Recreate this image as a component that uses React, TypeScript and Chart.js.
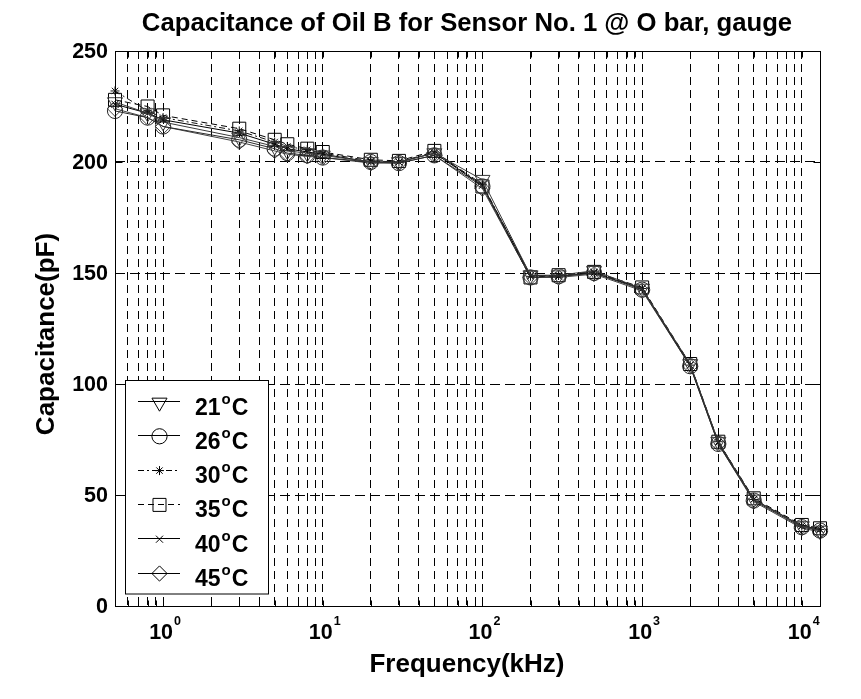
import React, { useEffect, useRef } from "react";
import { Chart, registerables } from "chart.js";
import { drawPoint } from "chart.js/helpers";

Chart.register(...registerables);

// ---- data ----
const freqKHz = [0.5, 0.8, 1, 3, 5, 6, 8, 10, 20, 30, 50, 100, 200, 300, 500, 1000, 2000, 3000, 5000, 10000, 13000];
const cap21 = [227, 222, 218, 211, 207, 205, 204, 203, 200, 200, 204, 192, 149, 149, 151, 143, 109, 74, 48, 36, 34];
const cap26 = [223, 220, 216, 210, 206, 204, 203, 202, 200, 199.5, 203, 189, 148, 148.5, 150, 142.5, 108, 73, 47.5, 35.5, 34];
const cap30 = [232, 223, 220, 214, 209, 207, 205.5, 204, 200.5, 200, 204.5, 190, 148.5, 149, 150.5, 143, 108.5, 74, 48, 36, 34.5];
const cap35 = [228, 225, 221, 215, 210, 208, 206, 204.5, 201, 200.5, 205, 189, 148, 149, 150.5, 143.5, 109, 74, 48.5, 36.5, 35];
const cap40 = [226, 222, 219, 213, 208, 206, 204.5, 203.5, 200, 200, 204, 189.5, 149, 148.5, 150, 143, 108.5, 73.5, 48, 36, 34.5];
const cap45 = [224, 220, 216, 209, 205, 203.5, 202.5, 202, 199.5, 199.5, 203, 188, 148, 148, 149.5, 142, 108, 73, 47, 35, 33.5];
const tempLabels = ["21", "26", "30", "35", "40", "45"];
const xDecades = [1, 10, 100, 1000, 10000];
const xDecadeExp = ["0", "1", "2", "3", "4"];
const xMinorMult = [2, 3, 4, 5, 6, 7, 8, 9];
const xLowTicks = [0.5, 0.6, 0.7, 0.8, 0.9];
const yTicks = [0, 50, 100, 150, 200, 250];

const titleText = "Capacitance of Oil B for Sensor No. 1 @ O bar, gauge";
const xTitle = "Frequency(kHz)";
const yTitle = "Capacitance(pF)";

const FONT = '"Liberation Sans", Arial, Helvetica, sans-serif';

const seriesStyle = [
  { values: cap21, color: "#3a3a3a", dash: [] as number[], pointStyle: "triangle", rotation: 180, radius: 8.7 },
  { values: cap26, color: "#2a2a2a", dash: [], pointStyle: "circle", rotation: 0, radius: 7.6 },
  { values: cap30, color: "#111", dash: [6, 3, 2, 3], pointStyle: "star", rotation: 0, radius: 4.5 },
  { values: cap35, color: "#000", dash: [6, 4], pointStyle: "rect", rotation: 0, radius: 9.2 },
  { values: cap40, color: "#000", dash: [], pointStyle: "crossRot", rotation: 0, radius: 5 },
  { values: cap45, color: "#444", dash: [], pointStyle: "rectRot", rotation: 0, radius: 7.6 },
];

const xTickValues: number[] = [
  ...xLowTicks,
  ...xDecades.slice(0, 4).flatMap((d) => [d, ...xMinorMult.map((m) => m * d)]),
  xDecades[4],
];

const overlay = {
  id: "overlay",
  afterDraw(chart: any) {
    const { ctx, chartArea: a, scales } = chart;
    const xs = scales.x;
    const ys = scales.y;
    const L = Math.round(a.left) + 0.5;
    const R = Math.round(a.right) + 0.5;
    const T = Math.round(a.top) + 0.5;
    const B = Math.round(a.bottom) + 0.5;
    ctx.save();
    ctx.setLineDash([]);
    ctx.strokeStyle = "#000";
    ctx.lineWidth = 1;
    // inside tick marks
    ctx.beginPath();
    for (const v of xTickValues) {
      const px = Math.round(xs.getPixelForValue(v)) + 0.5;
      ctx.moveTo(px, B);
      ctx.lineTo(px, B - 6);
      ctx.moveTo(px, T);
      ctx.lineTo(px, T + 6);
    }
    for (const v of yTicks) {
      const py = Math.round(ys.getPixelForValue(v)) + 0.5;
      ctx.moveTo(L, py);
      ctx.lineTo(L + 7, py);
      ctx.moveTo(R, py);
      ctx.lineTo(R - 7, py);
    }
    ctx.stroke();
    // frame
    ctx.strokeRect(L, T, R - L, B - T);

    // y tick labels
    ctx.fillStyle = "#000";
    ctx.font = `bold 21.5px ${FONT}`;
    ctx.textAlign = "right";
    ctx.textBaseline = "middle";
    for (const v of yTicks) {
      ctx.fillText(String(v), 108, ys.getPixelForValue(v) + 1);
    }
    // x tick labels 10^n
    ctx.textBaseline = "alphabetic";
    ctx.textAlign = "left";
    xDecades.forEach((d, i) => {
      const px = xs.getPixelForValue(d);
      ctx.font = `bold 21.5px ${FONT}`;
      const w1 = ctx.measureText("10").width;
      ctx.font = `bold 12.5px ${FONT}`;
      const w2 = ctx.measureText(xDecadeExp[i]).width;
      const x0 = px + 2 - (w1 + w2 + 1) / 2;
      ctx.font = `bold 21.5px ${FONT}`;
      ctx.fillText("10", x0, 639);
      ctx.font = `bold 12.5px ${FONT}`;
      ctx.fillText(xDecadeExp[i], x0 + w1 + 1, 625);
    });

    // title
    ctx.textAlign = "center";
    ctx.font = `bold 25.7px ${FONT}`;
    ctx.fillText(titleText, 467, 31);
    // x title
    ctx.font = `bold 26px ${FONT}`;
    ctx.fillText(xTitle, 467, 672);
    // y title
    ctx.save();
    ctx.translate(54, 334);
    ctx.rotate(-Math.PI / 2);
    ctx.fillText(yTitle, 0, 0);
    ctx.restore();

    // legend
    const bx = 125.5, by = 380.5, bw = 143, bh = 213.5;
    ctx.fillStyle = "#fff";
    ctx.fillRect(bx, by, bw, bh);
    ctx.strokeStyle = "#000";
    ctx.strokeRect(bx, by, bw, bh);
    seriesStyle.forEach((s, i) => {
      const ry = 401 + i * 34.3;
      ctx.strokeStyle = "#000";
      ctx.lineWidth = 1;
      ctx.setLineDash(s.dash);
      ctx.beginPath();
      ctx.moveTo(138, Math.round(ry) + 0.5);
      ctx.lineTo(180, Math.round(ry) + 0.5);
      ctx.stroke();
      ctx.setLineDash([]);
      ctx.fillStyle = "rgba(0,0,0,0)";
      drawPoint(ctx, { pointStyle: s.pointStyle, rotation: s.rotation, radius: s.radius, borderWidth: 1 }, 159.5, ry + (s.pointStyle === "triangle" ? 1.5 : 1));
      ctx.fillStyle = "#000";
      ctx.textAlign = "left";
      ctx.font = `bold 23px ${FONT}`;
      const base = ry + 13.5;
      ctx.fillText(tempLabels[i], 195, base);
      const wn = ctx.measureText(tempLabels[i]).width;
      ctx.font = `bold 15px ${FONT}`;
      ctx.fillText("o", 195 + wn + 1, base - 11);
      const wo = ctx.measureText("o").width;
      ctx.font = `bold 23px ${FONT}`;
      ctx.fillText("C", 195 + wn + wo + 2, base);
    });
    ctx.restore();
  },
};

export default function App() {
  const ref = useRef<HTMLCanvasElement | null>(null);
  useEffect(() => {
    if (!ref.current) return;
    const chart = new Chart(ref.current, {
      type: "line",
      data: {
        labels: freqKHz,
        datasets: seriesStyle.map((s, i) => ({
          label: tempLabels[i] + "°C",
          data: freqKHz.map((f, j) => ({ x: f, y: s.values[j] })),
          borderColor: s.color,
          backgroundColor: "rgba(0,0,0,0)",
          borderWidth: 1,
          borderDash: s.dash,
          pointStyle: s.pointStyle as any,
          pointRotation: s.rotation,
          pointRadius: s.radius,
          pointBorderColor: s.color,
          pointBackgroundColor: "rgba(0,0,0,0)",
          pointBorderWidth: 1,
          tension: 0,
          clip: false as any,
        })),
      },
      options: {
        responsive: false,
        animation: false,
        devicePixelRatio: 1,
        layout: { padding: { left: 115, right: 41, top: 51, bottom: 93 } },
        plugins: { legend: { display: false }, tooltip: { enabled: false }, title: { display: false } },
        scales: {
          x: {
            type: "logarithmic",
            min: 0.5,
            max: 13000,
            afterBuildTicks: (scale: any) => {
              scale.ticks = xTickValues.map((v) => ({ value: v }));
            },
            ticks: { display: false },
            grid: { color: "#000", lineWidth: 1, drawTicks: false },
            border: { display: false, dash: [8, 5] },
          },
          y: {
            type: "linear",
            min: 0,
            max: 250,
            afterBuildTicks: (scale: any) => {
              scale.ticks = yTicks.map((v) => ({ value: v }));
            },
            ticks: { display: false },
            grid: { color: "#000", lineWidth: 1, drawTicks: false },
            border: { display: false, dash: [10, 5] },
          },
        },
      },
      plugins: [overlay],
    });
    return () => chart.destroy();
  }, []);
  return (
    <div style={{ position: "fixed", left: 0, top: 0, width: 861, height: 699, background: "#fff" }}>
      <canvas ref={ref} width={861} height={699} style={{ display: "block" }} />
    </div>
  );
}
